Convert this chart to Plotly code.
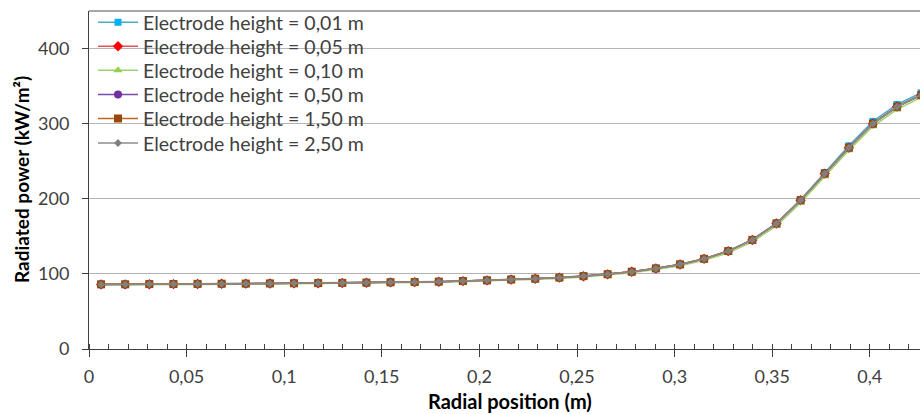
import plotly.graph_objects as go

radial_position = [0.00618, 0.01854, 0.03089, 0.04325, 0.05561, 0.06796, 0.08032, 0.09268,
                   0.10503, 0.11739, 0.12975, 0.14211, 0.15446, 0.16682, 0.17918, 0.19153,
                   0.20389, 0.21625, 0.22860, 0.24096, 0.25332, 0.26568, 0.27803, 0.29039,
                   0.30275, 0.31510, 0.32746, 0.33982, 0.35217, 0.36453, 0.37689, 0.38925,
                   0.40160, 0.41396, 0.42632]

power_h001 = [86.2, 86.2, 86.5, 86.6, 86.8, 87.0, 87.2, 87.4, 87.6, 87.8, 88.1, 88.5, 88.9, 89.2,
              89.8, 90.6, 91.5, 92.6, 93.7, 95.2, 97.1, 99.6, 103.0, 107.4, 112.8, 120.3,
              130.6, 145.6, 167.5, 198.8, 235.0, 270.5, 303.0, 325.5, 341.0]
power_h005 = [86.0, 86.0, 86.3, 86.4, 86.6, 86.8, 87.0, 87.2, 87.4, 87.6, 87.9, 88.3, 88.7, 89.0,
              89.6, 90.4, 91.3, 92.4, 93.5, 95.0, 96.9, 99.4, 102.8, 107.2, 112.5, 120.0,
              130.3, 145.2, 167.0, 198.0, 233.5, 268.0, 300.0, 322.5, 338.0]
power_h010 = [85.3, 85.3, 85.6, 85.7, 85.9, 86.1, 86.3, 86.5, 86.7, 86.9, 87.2, 87.6, 87.9, 88.2,
              88.8, 89.6, 90.5, 91.5, 92.6, 94.0, 95.8, 98.2, 101.5, 105.7, 110.8, 118.0,
              128.0, 142.6, 164.0, 194.8, 230.0, 264.5, 296.5, 319.0, 335.0]
power_h050 = [86.0, 86.0, 86.3, 86.4, 86.6, 86.8, 87.0, 87.2, 87.4, 87.6, 87.9, 88.3, 88.7, 89.0,
              89.6, 90.4, 91.3, 92.4, 93.5, 95.0, 96.9, 99.4, 102.8, 107.2, 112.5, 120.0,
              130.3, 145.2, 167.0, 198.0, 233.5, 268.0, 300.0, 322.5, 338.0]
power_h150 = [86.1, 86.1, 86.4, 86.5, 86.7, 86.9, 87.1, 87.3, 87.5, 87.7, 88.0, 88.4, 88.8, 89.1,
              89.7, 90.5, 91.4, 92.5, 93.6, 95.1, 97.0, 99.5, 102.9, 107.3, 112.6, 120.1,
              130.4, 145.3, 167.1, 198.1, 233.6, 268.1, 300.1, 322.6, 338.1]
power_h250 = [86.0, 86.0, 86.3, 86.4, 86.6, 86.8, 87.0, 87.2, 87.4, 87.6, 87.9, 88.3, 88.7, 89.0,
              89.6, 90.4, 91.3, 92.4, 93.5, 95.0, 96.9, 99.4, 102.8, 107.2, 112.5, 120.0,
              130.3, 145.2, 167.0, 198.0, 233.5, 268.0, 300.0, 322.5, 338.0]

series_names = ["Electrode height = 0,01 m", "Electrode height = 0,05 m",
                "Electrode height = 0,10 m", "Electrode height = 0,50 m",
                "Electrode height = 1,50 m", "Electrode height = 2,50 m"]
series_values = [power_h001, power_h005, power_h010, power_h050, power_h150, power_h250]
line_colors = ["#4bacc6", "#e8505a", "#9bd36a", "#7a4aa8", "#c0651e", "#8c8c8c"]
marker_colors = ["#00b0f0", "#ff0000", "#92d050", "#7030a0", "#974706", "#7f7f7f"]
marker_symbols = ["square", "diamond", "triangle-up", "circle", "square", "diamond"]
marker_sizes = [7, 8, 8, 8, 8, 6]

x_ticks = [0, 0.05, 0.1, 0.15, 0.2, 0.25, 0.3, 0.35, 0.4]
x_tick_labels = ["0", "0,05", "0,1", "0,15", "0,2", "0,25", "0,3", "0,35", "0,4"]
y_ticks = [0, 100, 200, 300, 400]

FONT = "Lato"
PLOT_L, PLOT_T, PLOT_H, PLOT_W = 89, 11, 338.5, 831
legend_rows_px = [22.7, 46.7, 70.7, 95.0, 119.0, 143.5]

fig = go.Figure()
legend_layout = {}
for i, (name, vals) in enumerate(zip(series_names, series_values)):
    lname = "legend" if i == 0 else f"legend{i + 1}"
    fig.add_trace(go.Scatter(
        x=radial_position, y=vals, name=name, mode="lines+markers",
        legend=lname,
        line=dict(color=line_colors[i], width=1.5),
        marker=dict(color=marker_colors[i], symbol=marker_symbols[i], size=marker_sizes[i],
                    line=dict(width=0)),
    ))
    legend_layout[lname] = dict(
        x=4 / PLOT_W, y=1 - (legend_rows_px[i] - PLOT_T) / PLOT_H,
        xanchor="left", yanchor="middle", bgcolor="rgba(0,0,0,0)",
        font=dict(size=19.5, color="#404040", family=FONT), itemwidth=40,
    )

fig.update_layout(
    width=920, height=414,
    margin=dict(l=PLOT_L, r=0, t=PLOT_T, b=414 - PLOT_T - PLOT_H),
    paper_bgcolor="white", plot_bgcolor="white",
    font=dict(family=FONT, size=18, color="#404040"),
    showlegend=True,
    xaxis=dict(range=[0, 0.4257], tickvals=x_ticks, ticktext=x_tick_labels,
               showgrid=False, zeroline=False, showline=True, linecolor="#404040",
               linewidth=1, ticks="outside", ticklen=7, tickcolor="#404040",
               minor=dict(dtick=0.01, tick0=0, ticks="inside", ticklen=5, tickcolor="#404040",
                          showgrid=False),
               tickfont=dict(size=18, color="#404040"), ticklabelstandoff=4),
    yaxis=dict(range=[0, 450], tickvals=y_ticks, showgrid=True, gridcolor="#b4b4b4",
               gridwidth=1, zeroline=False, showline=True, linecolor="#404040", linewidth=1,
               ticks="outside", ticklen=6, tickcolor="#404040",
               tickfont=dict(size=18, color="#404040"), ticklabelstandoff=9),
    **legend_layout,
)
# top border of plot area
fig.add_shape(type="line", xref="paper", yref="paper", x0=0, x1=1, y0=1, y1=1,
              line=dict(color="#8a8a8a", width=1.5))
fig.add_annotation(text="<b>Radial position (m)</b>", xref="paper", yref="paper",
                   x=(510 - PLOT_L) / PLOT_W, y=-(401.7 - PLOT_T - PLOT_H) / PLOT_H,
                   xanchor="center", yanchor="middle", showarrow=False,
                   font=dict(size=20, color="#000000", family=FONT))
fig.add_annotation(text="<b>Radiated power (kW/m²)</b>", xref="paper", yref="paper",
                   x=-(PLOT_L - 21) / PLOT_W, y=0.5, xanchor="center", yanchor="middle",
                   textangle=-90, showarrow=False,
                   font=dict(size=19, color="#000000", family=FONT))

fig.write_html("out.html", post_script="document.body.style.margin='0';",
               config={"displayModeBar": False})
